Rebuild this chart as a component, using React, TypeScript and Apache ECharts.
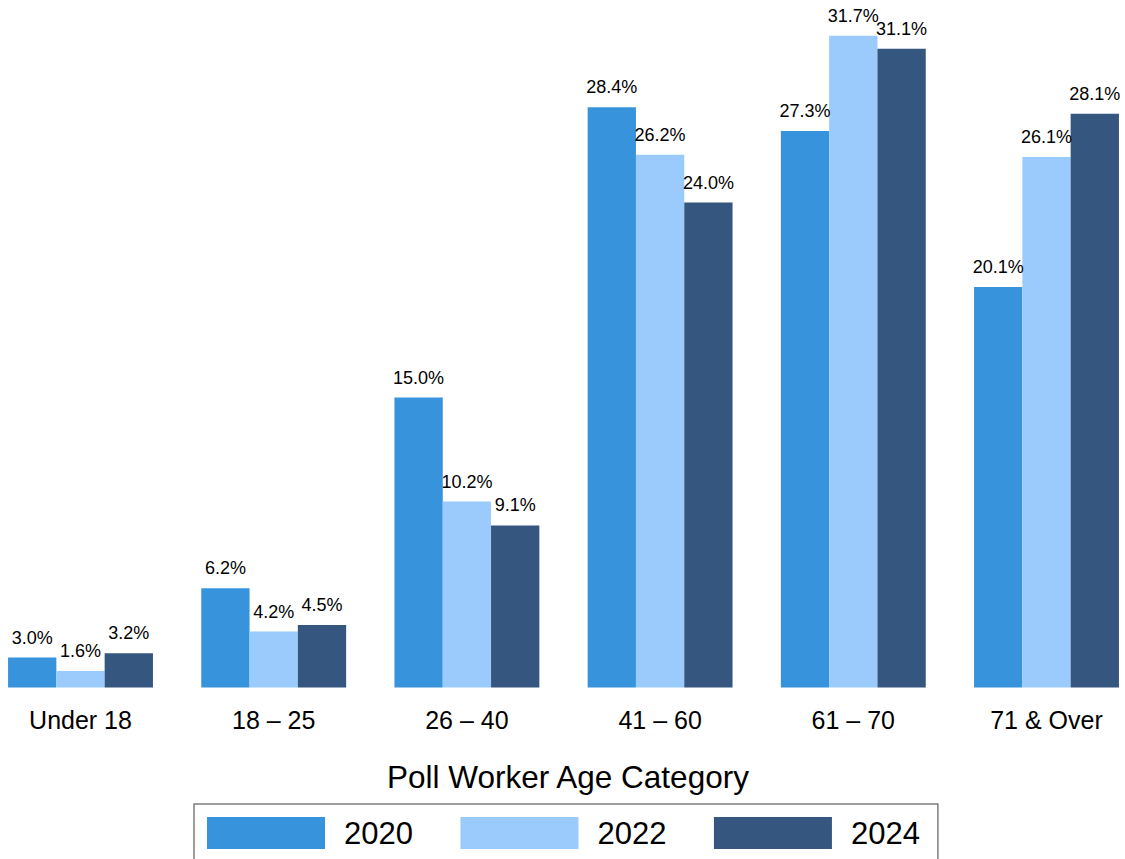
import React, { useEffect, useRef } from "react";
import * as echarts from "echarts";

const categories = ["Under 18", "18 – 25", "26 – 40", "41 – 60", "61 – 70", "71 & Over"];
const seriesNames = ["2020", "2022", "2024"];
const values2020 = [3.0, 6.2, 15.0, 28.4, 27.3, 20.1];
const values2022 = [1.6, 4.2, 10.2, 26.2, 31.7, 26.1];
const values2024 = [3.2, 4.5, 9.1, 24.0, 31.1, 28.1];
const colors = ["#3793DC", "#9ACBFC", "#34567F"];
const axisTitle = "Poll Worker Age Category";

const FONT = "'Liberation Sans', Arial, Helvetica, sans-serif";
const OFFSET = 20; // chart canvas extends 20px beyond the page on both sides

export default function App() {
  const ref = useRef<HTMLDivElement>(null);
  useEffect(() => {
    if (!ref.current) return;
    const chart = echarts.init(ref.current, null, { renderer: "svg" });
    const data = [values2020, values2022, values2024];
    chart.setOption({
      animation: false,
      backgroundColor: "#ffffff",
      textStyle: { fontFamily: FONT },
      grid: { left: -16.1 + OFFSET, right: 1.9, top: 7.5, bottom: 171.5, containLabel: false },
      xAxis: {
        type: "category",
        data: categories,
        axisLine: { show: false },
        axisTick: { show: false },
        axisLabel: { fontSize: 25, color: "#000", margin: 20, fontFamily: FONT },
      },
      yAxis: {
        type: "value",
        min: 1.62,
        max: 33,
        show: false,
        splitLine: { show: false },
      },
      legend: {
        left: 194 + OFFSET,
        top: 804,
        itemWidth: 118,
        itemHeight: 32,
        itemGap: 47.5,
        icon: "rect",
        borderColor: "#7f7f7f",
        borderWidth: 1.5,
        padding: [13, 18, 13, 13],
        textStyle: { fontSize: 31, color: "#000", fontFamily: FONT, padding: [0, 0, 0, 14] },
        data: seriesNames,
      },
      graphic: [
        {
          type: "text",
          x: 568 + OFFSET,
          y: 777,
          style: {
            text: axisTitle,
            fontSize: 31.5,
            fontFamily: FONT,
            fill: "#000",
            textAlign: "center",
            textVerticalAlign: "middle",
          },
        },
      ],
      series: seriesNames.map((name, i) => ({
        name,
        type: "bar",
        data: data[i],
        barWidth: 48.3,
        barGap: "0%",
        barMinHeight: 51.5,
        clip: true,
        itemStyle: { color: colors[i] },
        label: {
          show: true,
          position: "top",
          distance: 11,
          fontSize: 18,
          color: "#000",
          fontFamily: FONT,
          formatter: (p: any) => Number(p.value).toFixed(1) + "%",
        },
      })),
    });
    return () => chart.dispose();
  }, []);
  return (
    <div
      style={{ position: "fixed", left: 0, top: 0, width: 1125, height: 859, overflow: "hidden", background: "#fff" }}
    >
      <div
        ref={ref}
        style={{ position: "absolute", left: -OFFSET, top: 0, width: 1125 + 2 * OFFSET, height: 859 }}
      />
    </div>
  );
}
